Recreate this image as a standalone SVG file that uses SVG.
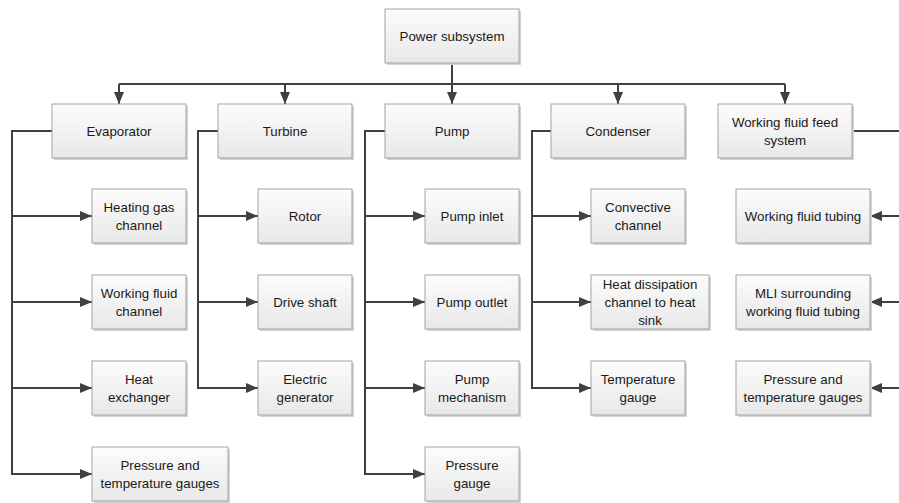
<svg xmlns="http://www.w3.org/2000/svg" width="899" height="503" viewBox="0 0 899 503">
  <defs>
    <linearGradient id="boxFill" x1="0" y1="0" x2="0" y2="1">
      <stop offset="0" stop-color="#fcfcfc"/>
      <stop offset="1" stop-color="#e8e8e8"/>
    </linearGradient>
    <marker id="arrow" markerUnits="userSpaceOnUse" markerWidth="12" markerHeight="10" refX="12" refY="5" orient="auto">
      <path d="M0,0 L12,5 L0,10 Z" fill="#404040"/>
    </marker>
  </defs>
  <style>
    .shadow { fill: #d4d4d4; }
    .box { fill: url(#boxFill); stroke: #a3a3a3; stroke-width: 1; }
    .label { font-family: "Liberation Sans", Arial, sans-serif; font-size: 13.3px; fill: #1a1a1a; text-anchor: middle; }
    .wire { fill: none; stroke: #404040; stroke-width: 2; }
    .wire.arr { marker-end: url(#arrow); }
  </style>
  <rect width="899" height="503" fill="#ffffff"/>

  <!-- connectors -->
  <g id="connectors">
    <!-- top-level bus -->
    <path class="wire" d="M452,63 V84"/>
    <path class="wire" d="M119,84 H785"/>
    <path class="wire arr" d="M119,84 V104"/>
    <path class="wire arr" d="M285,84 V104"/>
    <path class="wire arr" d="M452,84 V104"/>
    <path class="wire arr" d="M618,84 V104"/>
    <path class="wire arr" d="M785,84 V104"/>

    <!-- evaporator -->
    <path class="wire arr" d="M52,131 H12 V474 H92"/>
    <path class="wire arr" d="M12,216 H92"/>
    <path class="wire arr" d="M12,302 H92"/>
    <path class="wire arr" d="M12,388 H92"/>

    <!-- turbine -->
    <path class="wire arr" d="M218,131 H198 V388 H258"/>
    <path class="wire arr" d="M198,216 H258"/>
    <path class="wire arr" d="M198,302 H258"/>

    <!-- pump -->
    <path class="wire arr" d="M385,131 H365 V474 H425"/>
    <path class="wire arr" d="M365,216 H425"/>
    <path class="wire arr" d="M365,302 H425"/>
    <path class="wire arr" d="M365,388 H425"/>

    <!-- condenser -->
    <path class="wire arr" d="M551,131 H532 V388 H591"/>
    <path class="wire arr" d="M532,216 H591"/>
    <path class="wire arr" d="M532,302 H591"/>

    <!-- working fluid feed system (trunk runs past the right edge) -->
    <path class="wire" d="M852,131 H910 V388"/>
    <path class="wire arr" d="M910,216 H870"/>
    <path class="wire arr" d="M910,302 H870"/>
    <path class="wire arr" d="M910,388 H870"/>
  </g>

  <!-- root -->
  <g id="power-subsystem">
    <rect class="shadow" x="387" y="11" width="134" height="54"/>
    <rect class="box" x="385" y="9" width="134" height="54"/>
    <text class="label" x="452" y="41">Power subsystem</text>
  </g>

  <!-- second level -->
  <g id="evaporator">
    <rect class="shadow" x="54" y="106" width="134" height="54"/>
    <rect class="box" x="52" y="104" width="134" height="54"/>
    <text class="label" x="119" y="136">Evaporator</text>
  </g>
  <g id="turbine">
    <rect class="shadow" x="220" y="106" width="134" height="54"/>
    <rect class="box" x="218" y="104" width="134" height="54"/>
    <text class="label" x="285" y="136">Turbine</text>
  </g>
  <g id="pump">
    <rect class="shadow" x="387" y="106" width="134" height="54"/>
    <rect class="box" x="385" y="104" width="134" height="54"/>
    <text class="label" x="452" y="136">Pump</text>
  </g>
  <g id="condenser">
    <rect class="shadow" x="553" y="106" width="134" height="54"/>
    <rect class="box" x="551" y="104" width="134" height="54"/>
    <text class="label" x="618" y="136">Condenser</text>
  </g>
  <g id="working-fluid-feed-system">
    <rect class="shadow" x="720" y="106" width="134" height="54"/>
    <rect class="box" x="718" y="104" width="134" height="54"/>
    <text class="label" x="785" y="127">Working fluid feed</text>
    <text class="label" x="785" y="145">system</text>
  </g>

  <!-- evaporator parts -->
  <g id="heating-gas-channel">
    <rect class="shadow" x="94" y="191" width="94" height="54"/>
    <rect class="box" x="92" y="189" width="94" height="54"/>
    <text class="label" x="139" y="212">Heating gas</text>
    <text class="label" x="139" y="230">channel</text>
  </g>
  <g id="working-fluid-channel">
    <rect class="shadow" x="94" y="277" width="94" height="54"/>
    <rect class="box" x="92" y="275" width="94" height="54"/>
    <text class="label" x="139" y="298">Working fluid</text>
    <text class="label" x="139" y="316">channel</text>
  </g>
  <g id="heat-exchanger">
    <rect class="shadow" x="94" y="363" width="94" height="54"/>
    <rect class="box" x="92" y="361" width="94" height="54"/>
    <text class="label" x="139" y="384">Heat</text>
    <text class="label" x="139" y="402">exchanger</text>
  </g>
  <g id="evaporator-gauges">
    <rect class="shadow" x="94" y="449" width="136" height="54"/>
    <rect class="box" x="92" y="447" width="136" height="54"/>
    <text class="label" x="160" y="470">Pressure and</text>
    <text class="label" x="160" y="488">temperature gauges</text>
  </g>

  <!-- turbine parts -->
  <g id="rotor">
    <rect class="shadow" x="260" y="191" width="94" height="54"/>
    <rect class="box" x="258" y="189" width="94" height="54"/>
    <text class="label" x="305" y="221">Rotor</text>
  </g>
  <g id="drive-shaft">
    <rect class="shadow" x="260" y="277" width="94" height="54"/>
    <rect class="box" x="258" y="275" width="94" height="54"/>
    <text class="label" x="305" y="307">Drive shaft</text>
  </g>
  <g id="electric-generator">
    <rect class="shadow" x="260" y="363" width="94" height="54"/>
    <rect class="box" x="258" y="361" width="94" height="54"/>
    <text class="label" x="305" y="384">Electric</text>
    <text class="label" x="305" y="402">generator</text>
  </g>

  <!-- pump parts -->
  <g id="pump-inlet">
    <rect class="shadow" x="427" y="191" width="94" height="54"/>
    <rect class="box" x="425" y="189" width="94" height="54"/>
    <text class="label" x="472" y="221">Pump inlet</text>
  </g>
  <g id="pump-outlet">
    <rect class="shadow" x="427" y="277" width="94" height="54"/>
    <rect class="box" x="425" y="275" width="94" height="54"/>
    <text class="label" x="472" y="307">Pump outlet</text>
  </g>
  <g id="pump-mechanism">
    <rect class="shadow" x="427" y="363" width="94" height="54"/>
    <rect class="box" x="425" y="361" width="94" height="54"/>
    <text class="label" x="472" y="384">Pump</text>
    <text class="label" x="472" y="402">mechanism</text>
  </g>
  <g id="pressure-gauge">
    <rect class="shadow" x="427" y="449" width="94" height="54"/>
    <rect class="box" x="425" y="447" width="94" height="54"/>
    <text class="label" x="472" y="470">Pressure</text>
    <text class="label" x="472" y="488">gauge</text>
  </g>

  <!-- condenser parts -->
  <g id="convective-channel">
    <rect class="shadow" x="593" y="191" width="94" height="54"/>
    <rect class="box" x="591" y="189" width="94" height="54"/>
    <text class="label" x="638" y="212">Convective</text>
    <text class="label" x="638" y="230">channel</text>
  </g>
  <g id="heat-dissipation-channel">
    <rect class="shadow" x="593" y="277" width="118" height="54"/>
    <rect class="box" x="591" y="275" width="118" height="54"/>
    <text class="label" x="650" y="289">Heat dissipation</text>
    <text class="label" x="650" y="307">channel to heat</text>
    <text class="label" x="650" y="325">sink</text>
  </g>
  <g id="temperature-gauge">
    <rect class="shadow" x="593" y="363" width="94" height="54"/>
    <rect class="box" x="591" y="361" width="94" height="54"/>
    <text class="label" x="638" y="384">Temperature</text>
    <text class="label" x="638" y="402">gauge</text>
  </g>

  <!-- working fluid feed system parts -->
  <g id="working-fluid-tubing">
    <rect class="shadow" x="738" y="191" width="134" height="54"/>
    <rect class="box" x="736" y="189" width="134" height="54"/>
    <text class="label" x="803" y="221">Working fluid tubing</text>
  </g>
  <g id="mli-tubing">
    <rect class="shadow" x="738" y="277" width="134" height="54"/>
    <rect class="box" x="736" y="275" width="134" height="54"/>
    <text class="label" x="803" y="298">MLI surrounding</text>
    <text class="label" x="803" y="316">working fluid tubing</text>
  </g>
  <g id="feed-gauges">
    <rect class="shadow" x="738" y="363" width="134" height="54"/>
    <rect class="box" x="736" y="361" width="134" height="54"/>
    <text class="label" x="803" y="384">Pressure and</text>
    <text class="label" x="803" y="402">temperature gauges</text>
  </g>
</svg>
